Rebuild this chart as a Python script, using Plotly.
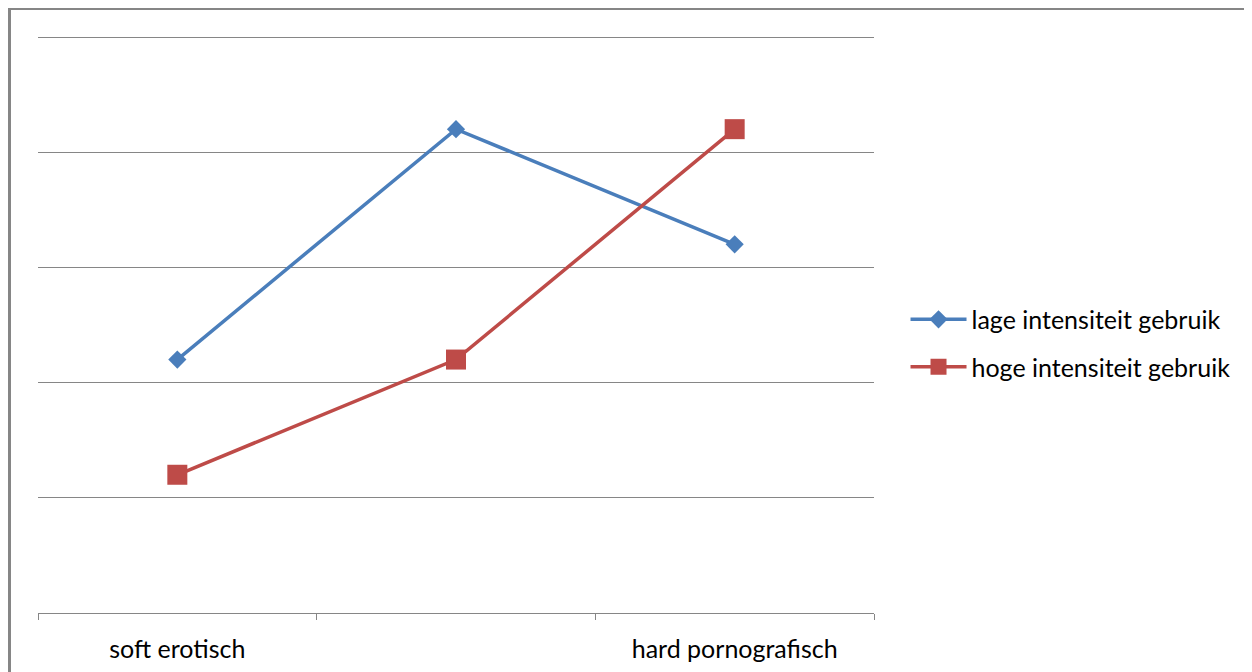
import plotly.graph_objects as go

categories = ["soft erotisch", "", "hard pornografisch"]
x_pos = [0, 1, 2]
lage = [2.2, 4.2, 3.2]
hoge = [1.2, 2.2, 4.2]
y_ticks = [0, 1, 2, 3, 4, 5]

FONT = "Lato"
fig = go.Figure()
fig.add_trace(go.Scatter(
    x=x_pos, y=lage, mode="lines+markers", name="lage intensiteit gebruik",
    line=dict(color="#4A7EBB", width=3.5),
    marker=dict(symbol="diamond", size=14, color="#4A7EBB"),
    legendgroup="a"))
fig.add_trace(go.Scatter(
    x=x_pos, y=hoge, mode="lines+markers", name="hoge intensiteit gebruik",
    line=dict(color="#BE4B48", width=3.5),
    marker=dict(symbol="square", size=20, color="#BE4B48"),
    legendgroup="b"))

fig.update_layout(
    width=1252, height=672,
    margin=dict(l=30, r=386, t=27, b=67),
    paper_bgcolor="white", plot_bgcolor="white",
    font=dict(family=FONT, size=25, color="#000000"),
    showlegend=True,
    legend=dict(x=0.0377 + 1, xanchor="left", y=0.467, yanchor="middle",
                tracegroupgap=12, font=dict(size=25), itemwidth=56,
                bgcolor="rgba(0,0,0,0)"),
    xaxis=dict(range=[-0.5, 2.5], tickvals=x_pos, ticktext=categories,
               ticks="", showgrid=False, zeroline=False,
               showline=True, linecolor="#868686", linewidth=1,
               tickfont=dict(size=25), ticklabelstandoff=14,
               minor=dict(tickvals=[-0.5, 0.5, 1.5, 2.5], ticks="outside",
                          ticklen=6, tickcolor="#868686", showgrid=False)),
    yaxis=dict(range=[0, 5.0174], tickvals=y_ticks, showticklabels=False,
               showgrid=True, gridcolor="#868686", gridwidth=1,
               zeroline=False, showline=False, ticks=""),
    shapes=[dict(type="rect", xref="paper", yref="paper",
                 x0=-0.0341, x1=2, y0=-1, y1=1.0458,
                 line=dict(color="#868686", width=3))],
)

fig.write_html("out.html")
